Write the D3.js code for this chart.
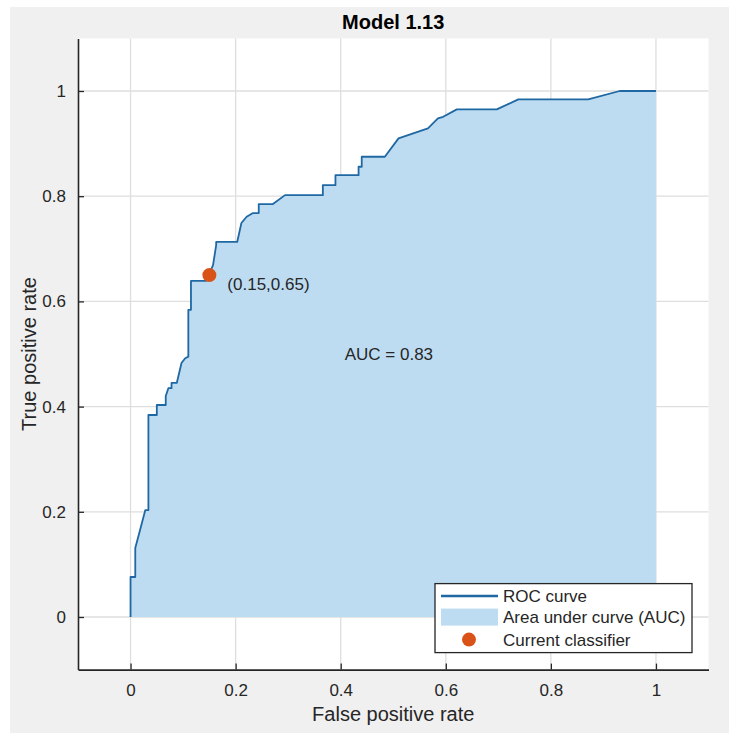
<!DOCTYPE html>
<html>
<head>
<meta charset="utf-8">
<script src="https://cdn.jsdelivr.net/npm/d3@7/dist/d3.min.js"></script>
<style>
  html, body { margin: 0; padding: 0; background: #ffffff; }
  svg { display: block; font-family: "Liberation Sans", Arial, Helvetica, sans-serif; }
</style>
</head>
<body>
<svg id="chart" width="729" height="733"></svg>
<script>
// ROC curve vertices (false positive rate, true positive rate)
const fpr = [0, 0, 0.009, 0.009, 0.018, 0.028, 0.034, 0.034, 0.050, 0.050,
  0.067, 0.067, 0.072, 0.078, 0.078, 0.088, 0.097, 0.104, 0.110, 0.110,
  0.115, 0.115, 0.144, 0.157, 0.163, 0.163, 0.203, 0.211, 0.221, 0.233,
  0.244, 0.244, 0.271, 0.294, 0.366, 0.366, 0.390, 0.390, 0.434, 0.434,
  0.440, 0.440, 0.484, 0.510, 0.566, 0.585, 0.595, 0.621, 0.697, 0.738,
  0.871, 0.931, 1.0];
const tpr = [0, 0.076, 0.076, 0.131, 0.165, 0.203, 0.203, 0.384, 0.384, 0.403,
  0.403, 0.420, 0.435, 0.435, 0.445, 0.445, 0.483, 0.492, 0.495, 0.584,
  0.584, 0.639, 0.639, 0.669, 0.707, 0.713, 0.713, 0.749, 0.761, 0.768,
  0.768, 0.785, 0.785, 0.802, 0.802, 0.821, 0.821, 0.840, 0.840, 0.856,
  0.856, 0.875, 0.875, 0.910, 0.929, 0.948, 0.951, 0.965, 0.965, 0.984,
  0.984, 1.0, 1.0];

// Operating point of the current classifier and the AUC value
const classifierPoint = [0.15, 0.65];
const aucValue = 0.83;

const xTicks = [0, 0.2, 0.4, 0.6, 0.8, 1];
const yTicks = [0, 0.2, 0.4, 0.6, 0.8, 1];
const xDomain = [-0.1, 1.1];
const yDomain = [-0.1, 1.1];

const titleText = "Model 1.13";
const xLabel = "False positive rate";
const yLabel = "True positive rate";
const legendLabels = ["ROC curve", "Area under curve (AUC)", "Current classifier"];

const fmt = v => (v === 0 || v === 1) ? String(v) : String(v);

const svg = d3.select("#chart");
const W = 729, H = 733;

const lineColor = "#1f68a3";
const areaColor = "#bedcf1";
const dotColor = "#d95319";
const inkColor = "#262626";
const gridColor = "#dedede";

// figure background
svg.append("rect").attr("x", 0).attr("y", 0).attr("width", W).attr("height", H).attr("fill", "#ffffff");
svg.append("rect").attr("x", 10).attr("y", 7).attr("width", W - 10).attr("height", H - 7).attr("fill", "#f0f0f0");

const plot = { left: 78, right: 708.5, top: 38.4, bottom: 669.6 };

const x = d3.scaleLinear().domain(xDomain).range([plot.left, plot.right]);
const y = d3.scaleLinear().domain(yDomain).range([plot.bottom, plot.top]);

// axes background
svg.append("rect")
  .attr("x", plot.left).attr("y", plot.top)
  .attr("width", plot.right - plot.left).attr("height", plot.bottom - plot.top)
  .attr("fill", "#ffffff");

// grid
const grid = svg.append("g").attr("stroke", gridColor).attr("stroke-width", 1.3);
grid.selectAll(".gx").data(xTicks).join("line")
  .attr("x1", d => x(d)).attr("x2", d => x(d))
  .attr("y1", plot.top).attr("y2", plot.bottom);
grid.selectAll(".gy").data(yTicks).join("line")
  .attr("y1", d => y(d)).attr("y2", d => y(d))
  .attr("x1", plot.left).attr("x2", plot.right);

const pts = fpr.map((f, i) => [f, tpr[i]]);

// area under the curve
const area = d3.area()
  .x(d => x(d[0]))
  .y0(y(0))
  .y1(d => y(d[1]));
svg.append("path").datum(pts).attr("d", area).attr("fill", areaColor);

// ROC curve
const line = d3.line().x(d => x(d[0])).y(d => y(d[1]));
svg.append("path").datum(pts).attr("d", line)
  .attr("fill", "none").attr("stroke", lineColor).attr("stroke-width", 1.8)
  .attr("stroke-linejoin", "round");

// current classifier
svg.append("circle")
  .attr("cx", x(classifierPoint[0])).attr("cy", y(classifierPoint[1]))
  .attr("r", 7).attr("fill", dotColor);

svg.append("text")
  .attr("x", x(classifierPoint[0]) + 18).attr("y", y(classifierPoint[1]) + 15)
  .attr("font-size", 17).attr("fill", inkColor)
  .text(`(${classifierPoint[0]},${classifierPoint[1]})`);

svg.append("text")
  .attr("x", x(0.4) + 4).attr("y", y(0.5)).attr("dy", "0.35em")
  .attr("font-size", 17).attr("fill", inkColor)
  .text(`AUC = ${aucValue}`);

// axes (left and bottom, ticks pointing inward)
const xAxis = d3.axisBottom(x).tickValues(xTicks).tickFormat(fmt).tickSizeInner(-6).tickSizeOuter(0).tickPadding(14);
const yAxis = d3.axisLeft(y).tickValues(yTicks).tickFormat(fmt).tickSizeInner(-6).tickSizeOuter(0).tickPadding(12);

const gx = svg.append("g").attr("transform", `translate(0,${plot.bottom})`).call(xAxis);
const gy = svg.append("g").attr("transform", `translate(${plot.left},0)`).call(yAxis);
[gx, gy].forEach(g => {
  g.select(".domain").attr("stroke", inkColor).attr("stroke-width", 1.6);
  g.selectAll(".tick line").attr("stroke", inkColor).attr("stroke-width", 1.3);
  g.selectAll(".tick text").attr("font-size", 17).attr("fill", inkColor)
    .attr("font-family", "'Liberation Sans', Arial, Helvetica, sans-serif");
});

// title and axis labels
svg.append("text")
  .attr("x", (plot.left + plot.right) / 2).attr("y", 29)
  .attr("text-anchor", "middle").attr("font-size", 20).attr("font-weight", "bold")
  .attr("fill", "#000000").text(titleText);

svg.append("text")
  .attr("x", (plot.left + plot.right) / 2).attr("y", 721)
  .attr("text-anchor", "middle").attr("font-size", 20).attr("fill", inkColor)
  .text(xLabel);

svg.append("text")
  .attr("transform", `translate(36,${(plot.top + plot.bottom) / 2}) rotate(-90)`)
  .attr("text-anchor", "middle").attr("font-size", 20).attr("fill", inkColor)
  .text(yLabel);

// legend (lower right)
const lg = { right: plot.right - 16.5, bottom: plot.bottom - 17, width: 257, height: 69 };
const lgx = lg.right - lg.width, lgy = lg.bottom - lg.height;
const legend = svg.append("g").attr("transform", `translate(${lgx},${lgy})`);
legend.append("rect").attr("x", 0).attr("y", 0).attr("width", lg.width).attr("height", lg.height)
  .attr("fill", "#ffffff").attr("stroke", inkColor).attr("stroke-width", 1.3);

const rowY = [12.5, 33.5, 56];
legend.append("line").attr("x1", 6).attr("x2", 63).attr("y1", rowY[0]).attr("y2", rowY[0])
  .attr("stroke", lineColor).attr("stroke-width", 2.5);
legend.append("rect").attr("x", 6).attr("y", rowY[1] - 8.5).attr("width", 57).attr("height", 17)
  .attr("fill", areaColor);
legend.append("circle").attr("cx", 34).attr("cy", rowY[2]).attr("r", 7).attr("fill", dotColor);

legend.selectAll(".lt").data(legendLabels).join("text")
  .attr("x", 68).attr("y", (d, i) => rowY[i]).attr("dy", "0.35em")
  .attr("font-size", 17).attr("fill", inkColor).text(d => d);
</script>
</body>
</html>
